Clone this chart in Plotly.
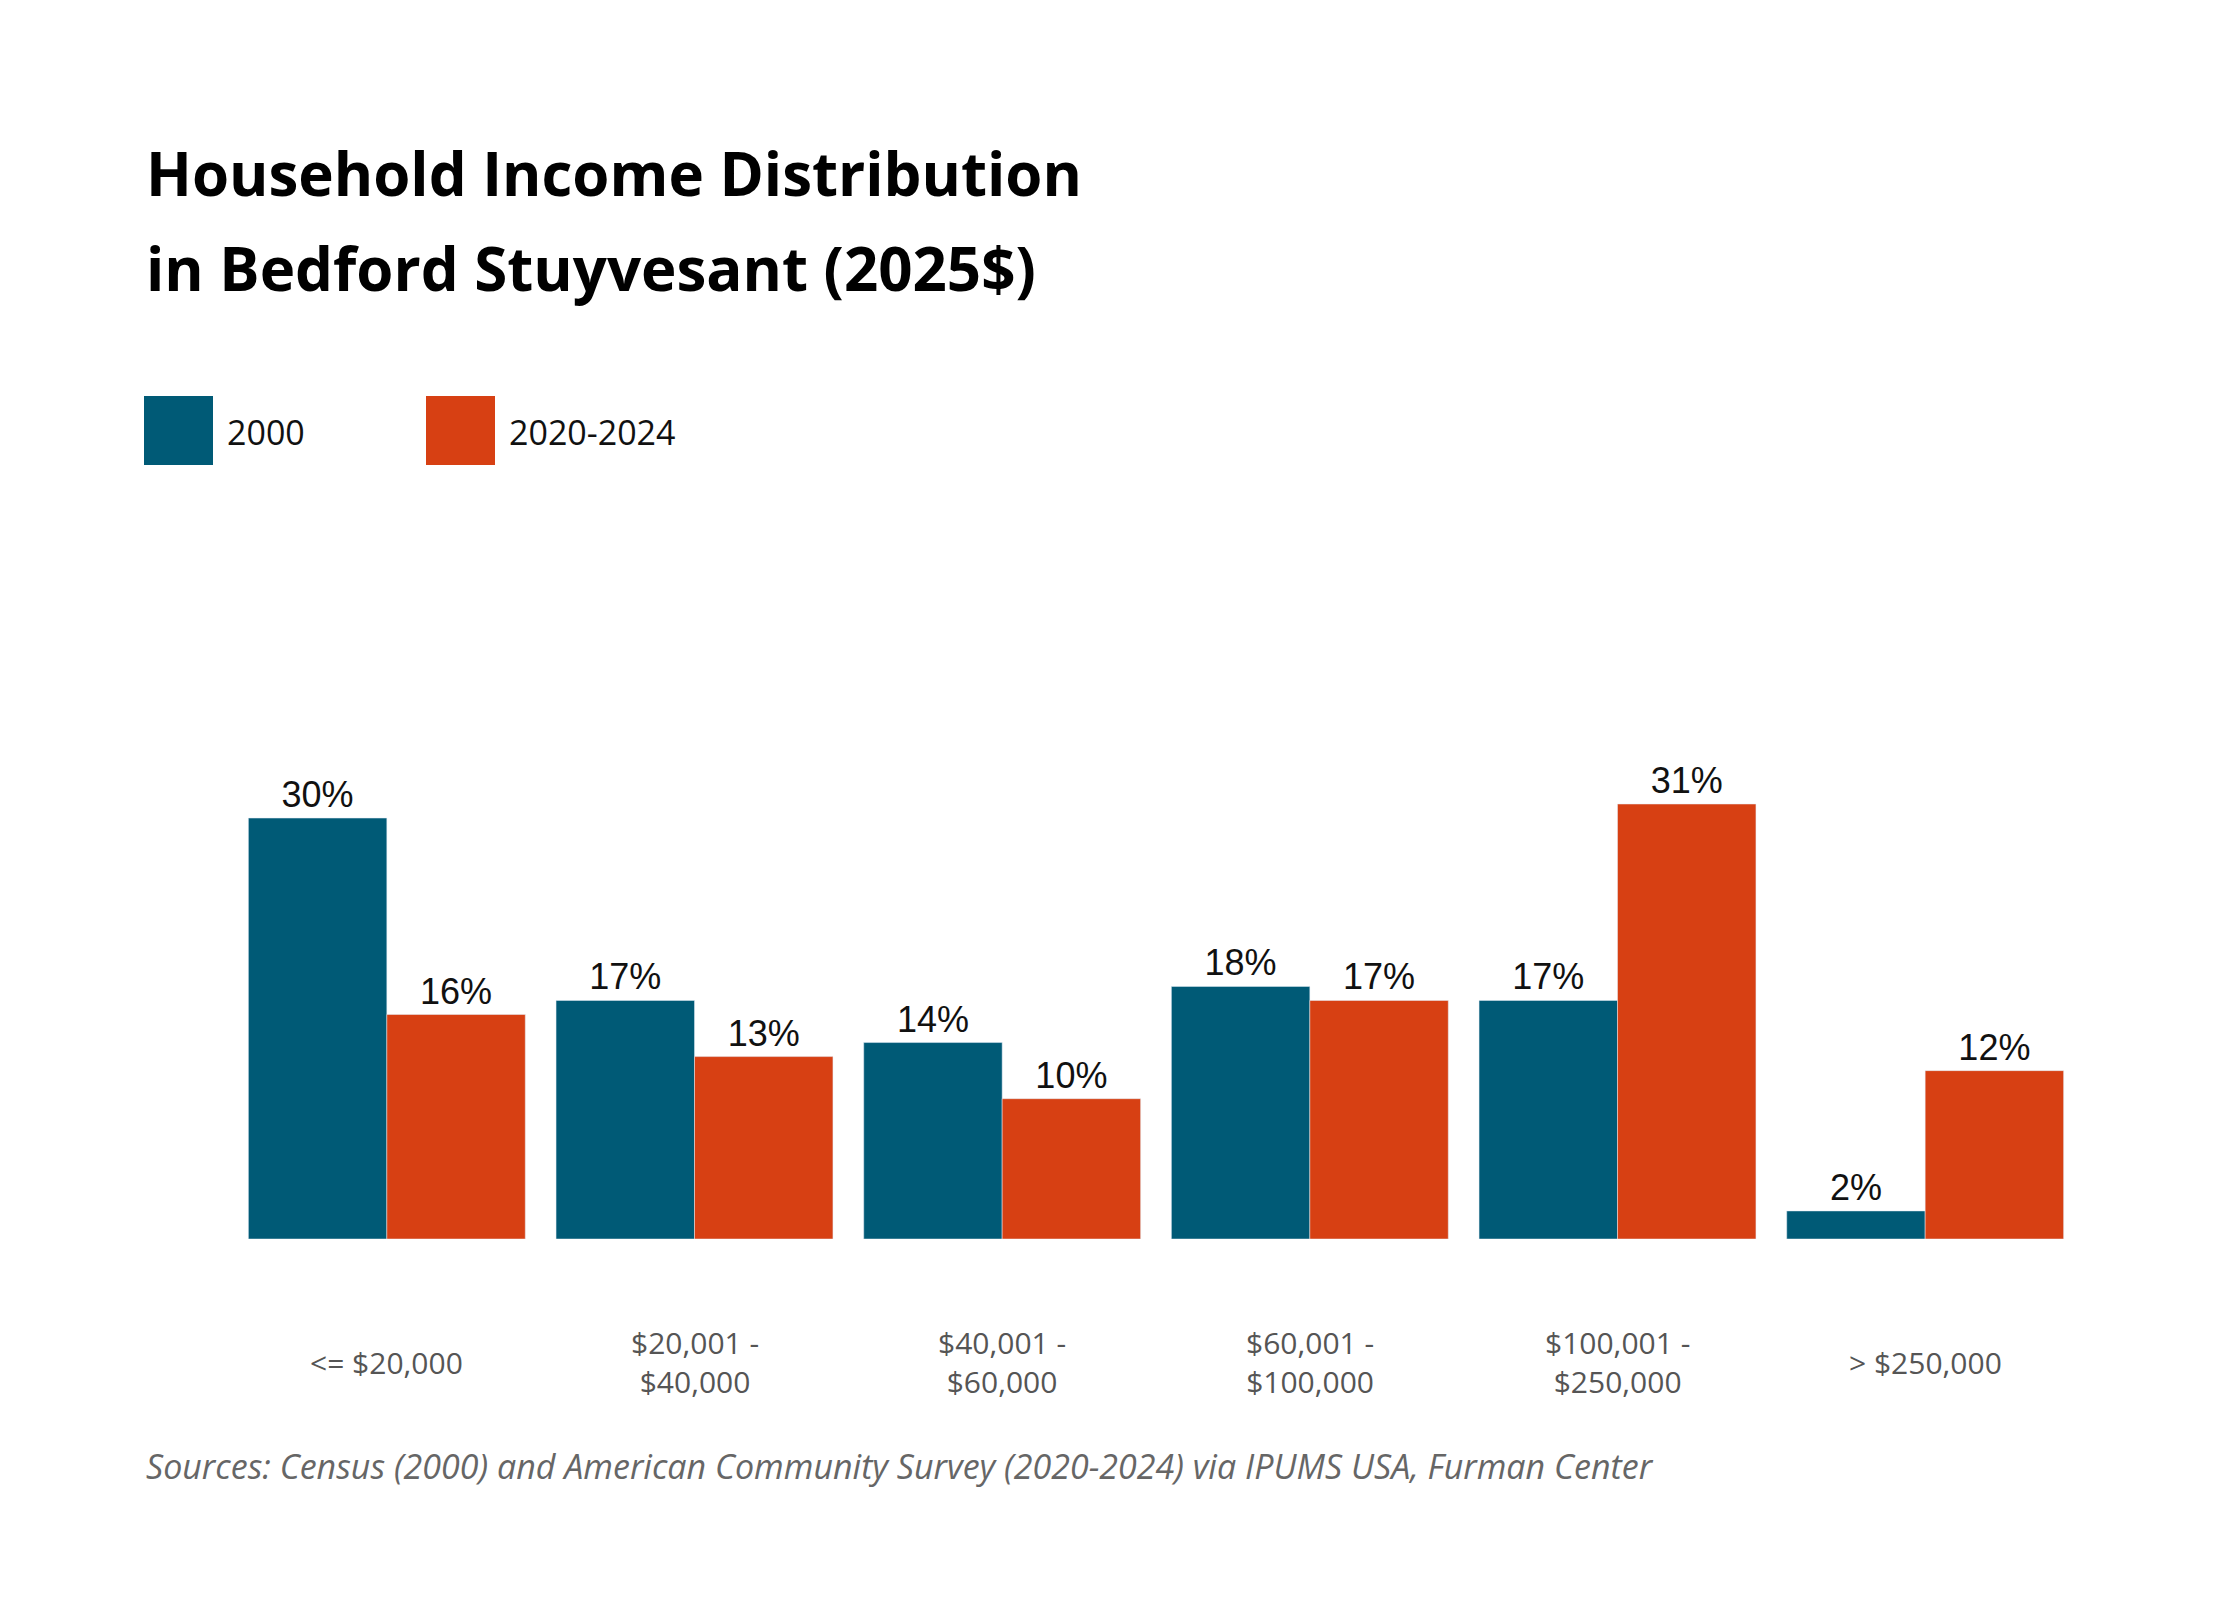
import plotly.graph_objects as go

categories = ["<= $20,000", "$20,001 -<br>$40,000", "$40,001 -<br>$60,000",
              "$60,001 -<br>$100,000", "$100,001 -<br>$250,000", "> $250,000"]
v2000 = [30, 17, 14, 18, 17, 2]
v2020 = [16, 13, 10, 17, 31, 12]
blue, orange = "#005A76", "#D74013"

fig = go.Figure()
for name, vals, col in [("2000", v2000, blue), ("2020-2024", v2020, orange)]:
    fig.add_bar(x=categories, y=vals, name=name, marker_color=col,
                text=[f"{v}%" for v in vals], textposition="outside",
                textfont=dict(family="Liberation Sans", size=36, color="#111"),
                cliponaxis=False)

W, H = 2240, 1600
L, R, T, B = 225, 169, 782, 369
pw, ph = W - L - R, H - T - B
def px(x): return (x - L) / pw
def py(y): return (H - B - y) / ph

ann = []
for c in categories:
    ann.append(dict(x=c, xref="x", y=py(1354), yref="paper", text=c, showarrow=False,
                    yanchor="middle", font=dict(family="Open Sans", size=30, color="#555"),
                    align="center"))
ann.append(dict(x=px(136), y=py(165), xref="paper", yref="paper", xanchor="left", yanchor="middle",
                text="<b>Household Income Distribution</b>", showarrow=False,
                font=dict(family="Open Sans", size=60, color="#000")))
ann.append(dict(x=px(136), y=py(260), xref="paper", yref="paper", xanchor="left", yanchor="middle",
                text="<b>in Bedford Stuyvesant (2025$)</b>", showarrow=False,
                font=dict(family="Open Sans", size=60, color="#000")))
ann.append(dict(x=px(136), y=py(1458), xref="paper", yref="paper", xanchor="left", yanchor="middle",
                text="<i>Sources: Census (2000) and American Community Survey (2020-2024) via IPUMS USA, Furman Center</i>",
                showarrow=False, font=dict(family="Open Sans", size=34, color="#666")))
shapes = []
for x0, label, col in [(136, "2000", blue), (418, "2020-2024", orange)]:
    shapes.append(dict(type="rect", xref="paper", yref="paper", x0=px(x0), x1=px(x0 + 69),
                       y0=py(388), y1=py(457), fillcolor=col, line_width=0))
    ann.append(dict(x=px(x0 + 81), y=py(424), xref="paper", yref="paper", xanchor="left",
                    yanchor="middle", text=label, showarrow=False,
                    font=dict(family="Open Sans", size=34, color="#111")))

fig.update_layout(width=W, height=H, margin=dict(l=L, r=R, t=T, b=B),
                  barmode="group", bargap=0.1, bargroupgap=0, showlegend=False,
                  plot_bgcolor="white", paper_bgcolor="white",
                  annotations=ann, shapes=shapes)
fig.update_xaxes(showticklabels=False, showgrid=False, zeroline=False, showline=False)
fig.update_yaxes(range=[0, 32], visible=False)
fig.write_html("out.html")
